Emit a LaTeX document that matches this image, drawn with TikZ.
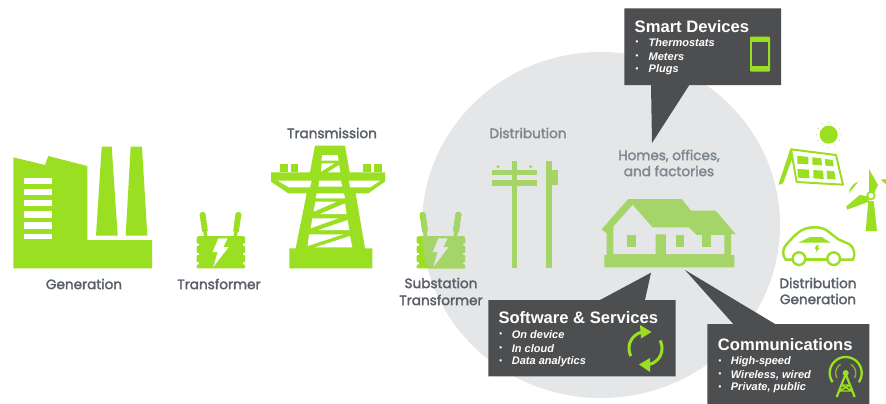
\documentclass[tikz,border=0pt]{standalone}
\usepackage{fontspec}
\setmainfont{Liberation Sans}
\newfontfamily\labfont[RawFeature={embolden=2.2}]{Poppins}
\definecolor{bright}{HTML}{9ADF22}
\definecolor{muted}{HTML}{A5D468}
\definecolor{disc}{HTML}{E4E6E7}
\definecolor{panel}{HTML}{4D4E50}
\definecolor{labdark}{HTML}{5A6068}
\definecolor{lablight}{HTML}{7F8790}
\newcommand{\xfmr}[1]{%
  \foreach \bx/\by/\cx/\cy in {38/30/47/93,145/30/136/93}{
    \draw[#1,line width=3.4pt] (\bx,\by) -- (\cx,\cy);
    \foreach \t in {0,0.14,0.28,0.42,0.56,0.70}{
      \fill[#1] ({\bx+\t*(\cx-\bx)},{\by+\t*(\cy-\by)}) circle[radius=9.5];
    }
  }
  \fill[#1] (26,93) -- (159,93) -- (159,190) -- (26,190) -- cycle;
  \foreach \ya/\yb in {94/116,122/144,150/172,178/190}{
    \fill[#1,rounded corners=1pt] (20,\ya) rectangle (165,\yb);
  }
}
\newcommand{\xbolt}[1]{\fill[#1] (85,100) -- (113,100) -- (100,126) -- (116,126) -- (70,186) -- (83,141) -- (68,141) -- cycle;}
\newcommand{\aarc}[6][]{\draw[#1] plot[smooth,domain=#5:#6,samples=30] ({#2+#4*cos(\x)},{#3-#4*sin(\x)});}
\tikzset{
  lab/.style={font=\labfont\fontsize{13.6}{16}\selectfont,align=center,inner sep=0pt},
  labd/.style={lab,text=labdark},
  labl/.style={lab,text=lablight},
  title/.style={font=\bfseries\fontsize{16.6}{19}\selectfont,text=white,anchor=west,inner sep=0pt},
  item/.style={font=\bfseries\itshape\fontsize{11}{13}\selectfont,text=white,anchor=west,inner sep=0pt},
  dot/.style={font=\bfseries\fontsize{8}{9}\selectfont,text=white,inner sep=0pt},
  callout/.style={fill=panel,draw=none}
}
\begin{document}
\begin{tikzpicture}[x=1pt,y=-1pt]
\useasboundingbox (0,0) rectangle (886,404);
\fill[white] (0,0) rectangle (886,404);
% disc
\fill[disc] (601,225) ellipse[x radius=179,y radius=173];

% generation
\fill[bright] (13.3,157.3) -- (45,165) -- (48.3,156) -- (87.3,166) -- (87.3,240) -- (152,240) -- (152,268.3) -- (13.3,268.3) -- cycle;
\foreach \ya/\yb in {177.7/184,189/195.3,200/206.3,211.3/217.7,222.3/228.7,233.7/239.3}{
  \fill[white] (24,\ya) rectangle (51.7,\yb);
}
\fill[bright] (101.7,146.7) -- (111.7,146.7) -- (117.7,235.7) -- (96,235.7) -- cycle;
\fill[bright] (130.7,146.7) -- (142,146.7) -- (147.3,235.7) -- (125.7,235.7) -- cycle;

% transformer
\begin{scope}[shift={(190,205)},scale=0.33333]
  \xfmr{bright}
  \xbolt{white}
\end{scope}

% substation transformer
\begin{scope}[shift={(410,205)},scale=0.33333]
  \xfmr{bright}
  \xbolt{white}
\end{scope}
\begin{scope}
  \clip (601,225) ellipse[x radius=179,y radius=173];
  \begin{scope}[shift={(410,205)},scale=0.33333]
    \xfmr{muted}
    \xbolt{disc}
  \end{scope}
\end{scope}

% transmission tower
\begin{scope}[shift={(265,140)},scale=0.33333]
  \fill[bright] (150,17) -- (240,17) -- (254,97) -- (360,97) -- (360,125) -- (310,160) -- (272,160) -- (300,325) -- (322,325) -- (322,385) -- (73,385) -- (73,325) -- (92,325) -- (125,160) -- (70,160) -- (18,125) -- (18,97) -- (135,97) -- cycle;
  \fill[bright] (45,72) rectangle (68,97);
  \fill[bright] (78,72) rectangle (100,97);
  \fill[bright] (293,72) rectangle (317,97);
  \fill[bright] (327,72) rectangle (350,97);
  \fill[white] (172,45) -- (218,45) -- (221,62) -- (169,62) -- cycle;
  \fill[white] (170,70) -- (208,70) -- (168,95) -- cycle;
  \fill[white] (222,75) -- (226,97) -- (188,97) -- cycle;
  \fill[white] (38,122) -- (140,122) -- (135,142) -- (72,142) -- cycle;
  \fill[white] (252,122) -- (345,122) -- (315,142) -- (255,142) -- cycle;
  \fill[white] (163,122) -- (228,122) -- (232,140) -- (160,140) -- cycle;
  \fill[white] (155,160) -- (237,160) -- (240,175) -- (152,175) -- cycle;
  \fill[white] (151,185) -- (215,185) -- (146,215) -- cycle;
  \fill[white] (240,190) -- (245,222) -- (165,222) -- cycle;
  \fill[white] (142,235) -- (220,235) -- (137,265) -- cycle;
  \fill[white] (248,240) -- (253,270) -- (160,270) -- cycle;
  \fill[white] (132,283) -- (235,283) -- (128,318) -- cycle;
  \fill[white] (255,288) -- (262,322) -- (150,322) -- cycle;
\end{scope}

% distribution poles
\begin{scope}[shift={(400,110)},scale=0.33333]
  \fill[muted] (335,152) rectangle (352,475);
  \fill[muted] (276,180) rectangle (411,196);
  \fill[muted] (276,211) rectangle (411,227);
  \fill[muted] (438,152) rectangle (456,475);
  \fill[muted] (456,180) rectangle (475,225);
  \fill[muted] (294,170) circle[radius=5];
  \fill[muted] (392,170) circle[radius=5];
\end{scope}

% house
\begin{scope}[shift={(595,190)},scale=0.33333]
  \fill[muted] (100,27) -- (260,27) -- (288,62) -- (362,62) -- (422,132) -- (408,132) -- (408,195) -- (418,195) -- (418,232) -- (28,232) -- (28,195) -- (35,195) -- (35,130) -- (20,118) -- cycle;
  \fill[disc] (55,110) -- (113,45) -- (172,112) -- (280,112) -- (305,135) -- (388,135) -- (388,192) -- (213,192) -- (213,133) -- (182,133) -- (182,192) -- (55,192) -- cycle;
  \fill[muted] (97,135) rectangle (122,172);
  \fill[muted] (243,135) rectangle (268,172);
  \fill[muted] (322,135) rectangle (347,172);
\end{scope}

% sun and solar panel
\begin{scope}[shift={(775,120)},scale=0.33333]
  \fill[bright] (161,44) circle[radius=27];
  \foreach \a in {0,30,...,330}{
    \fill[bright!65] ({161+37*cos(\a)},{44+37*sin(\a)}) circle[radius=1.8];
  }
  \draw[bright,line width=2pt,line join=round] (48,88) -- (183,105) -- (204,194) -- (65,186) -- cycle;
  \fill[bright] (46,86) -- (10,195) -- (24,190) -- (52,115) -- cycle;
  \fill[bright] (67,107) -- (100,111) -- (100,133) -- (67,131) -- cycle;
  \fill[bright] (112,112) -- (139,115) -- (141,136) -- (112,134) -- cycle;
  \fill[bright] (150,117) -- (173,120) -- (176,139) -- (151,137) -- cycle;
  \fill[bright] (67,147) -- (102,149) -- (103,175) -- (69,173) -- cycle;
  \fill[bright] (115,150) -- (144,152) -- (146,177) -- (115,175) -- cycle;
  \fill[bright] (155,152) -- (178,154) -- (182,178) -- (156,177) -- cycle;
\end{scope}

% wind turbine
\begin{scope}[shift={(843,165)},scale=0.33333]
  \fill[bright] (78,12) -- (105,60) -- (93,84) -- (78,84) -- cycle;
  \fill[bright] (12,134) -- (10,124) -- (50,90) -- (74,94) -- (78,110) -- cycle;
  \fill[bright] (76,108) -- (92,108) -- (102,198) -- (68,198) -- cycle;
  \fill[bright] (84,92) circle[radius=14];
  \fill[white] (84,92) circle[radius=8];
  \fill[bright] (18,84) .. controls (20,68) and (30,55) .. (46,50) .. controls (36,62) and (28,72) .. (18,84) -- cycle;
  \fill[bright] (113,44) -- (129,42) -- (129,58) -- cycle;
\end{scope}

% car
\begin{scope}[shift={(775,222)},scale=0.33333]
  \draw[bright,line width=2.4pt,line join=round,line cap=round] (52,113) -- (32,113) .. controls (22,100) and (22,82) .. (32,70) .. controls (45,55) and (60,38) .. (72,30) .. controls (95,12) and (135,12) .. (155,25) -- (190,52) -- (222,66) .. controls (238,75) and (242,100) .. (234,113) -- (197,113);
  \draw[bright,line width=2.4pt] (92,113) -- (155,113);
  \draw[bright,line width=2.4pt] (72,110) circle[radius=19];
  \draw[bright,line width=2.4pt] (176,110) circle[radius=19];
  \fill[bright] (70,62) -- (105,45) -- (140,45) -- (167,62) -- cycle;
  \fill[bright] (124,70) -- (132,70) -- (128,78) -- (133,78) -- (122,92) -- (124,81) -- (119,81) -- cycle;
\end{scope}

% callouts
\fill[callout] (624.3,8.3) -- (781,8.3) -- (781,85) -- (689.3,85) -- (652,143) -- (651,85) -- (624.3,85) -- cycle;
\fill[callout] (488.3,300) -- (600,300) -- (651,272.7) -- (645,300) -- (675.7,300) -- (675.7,376.3) -- (488.3,376.3) -- cycle;
\fill[callout] (707.3,324) -- (733.3,324) -- (685,270) -- (775,324) -- (869.3,324) -- (869.3,404) -- (707.3,404) -- cycle;

% smart devices text and icon
\node[title] (sdt) at (634.5,27) {Smart Devices};
\node[dot] (sd0) at (637,43) {•};
\node[dot] (sd1) at (637,56.5) {•};
\node[dot] (sd2) at (637,69.7) {•};
\node[item] (sda) at (648.5,43) {Thermostats};
\node[item] (sdb) at (648.5,56.5) {Meters};
\node[item] (sdc) at (648.5,69.7) {Plugs};
\fill[bright,rounded corners=1pt] (750,36.7) rectangle (770,71.7);
\fill[panel] (752.3,42.3) rectangle (767.7,65.7);

% software text and icon
\node[title] (sst) at (498.3,318) {Software \& Services};
\node[dot] (ss0) at (500.7,335) {•};
\node[dot] (ss1) at (500.7,348.3) {•};
\node[dot] (ss2) at (500.7,361.5) {•};
\node[item] (ssa) at (511.7,335) {On device};
\node[item] (ssb) at (511.7,348.3) {In cloud};
\node[item] (ssc) at (511.7,361.5) {Data analytics};
\aarc[bright,line width=3pt]{645.5}{348.3}{16.5}{208}{105}
\aarc[bright,line width=3pt]{645.5}{348.3}{16.5}{28}{-75}
\fill[bright] (640,325) -- (651.5,332) -- (641,338.5) -- cycle;
\fill[bright] (650,358) -- (639,364.5) -- (650,372) -- cycle;

% communications text and icon
\node[title] (cmt) at (717.7,345) {Communications};
\node[dot] (cm0) at (720,361.7) {•};
\node[dot] (cm1) at (720,375) {•};
\node[dot] (cm2) at (720,388) {•};
\node[item] (cma) at (730.7,361.7) {High-speed};
\node[item] (cmb) at (730.7,375) {Wireless, wired};
\node[item] (cmc) at (730.7,388) {Private, public};
\aarc[bright,line width=2.3pt]{845.7}{373}{16}{-35}{215}
\aarc[bright!70!panel,line width=1.4pt]{845.7}{373}{10}{-30}{60}
\aarc[bright!70!panel,line width=1.4pt]{845.7}{373}{10}{120}{210}
\fill[bright] (845.7,373) circle[radius=3];
\draw[bright,line width=2.2pt,line join=round] (836.7,397) -- (845.7,374) -- (854.7,397);
\draw[bright,line width=1.4pt] (841.5,385) -- (850,385) (839.5,391) -- (852,391) (841.5,385) -- (852,391) (850,385) -- (839.5,391);

% labels
\node[labd] (gen) at (84,284) {Generation};
\node[labd] (trf) at (219,284) {Transformer};
\node[labd] (trn) at (332,133) {Transmission};
\node[labl] (dis) at (528,133) {Distribution};
\node[labl] (hom) at (669,163) {Homes, offices,\\and factories};
\node[labd] (sub) at (441,291.5) {Substation\\[1pt]Transformer};
\node[labd] (dgn) at (818,291) {Distribution\\Generation};
\end{tikzpicture}
\end{document}
